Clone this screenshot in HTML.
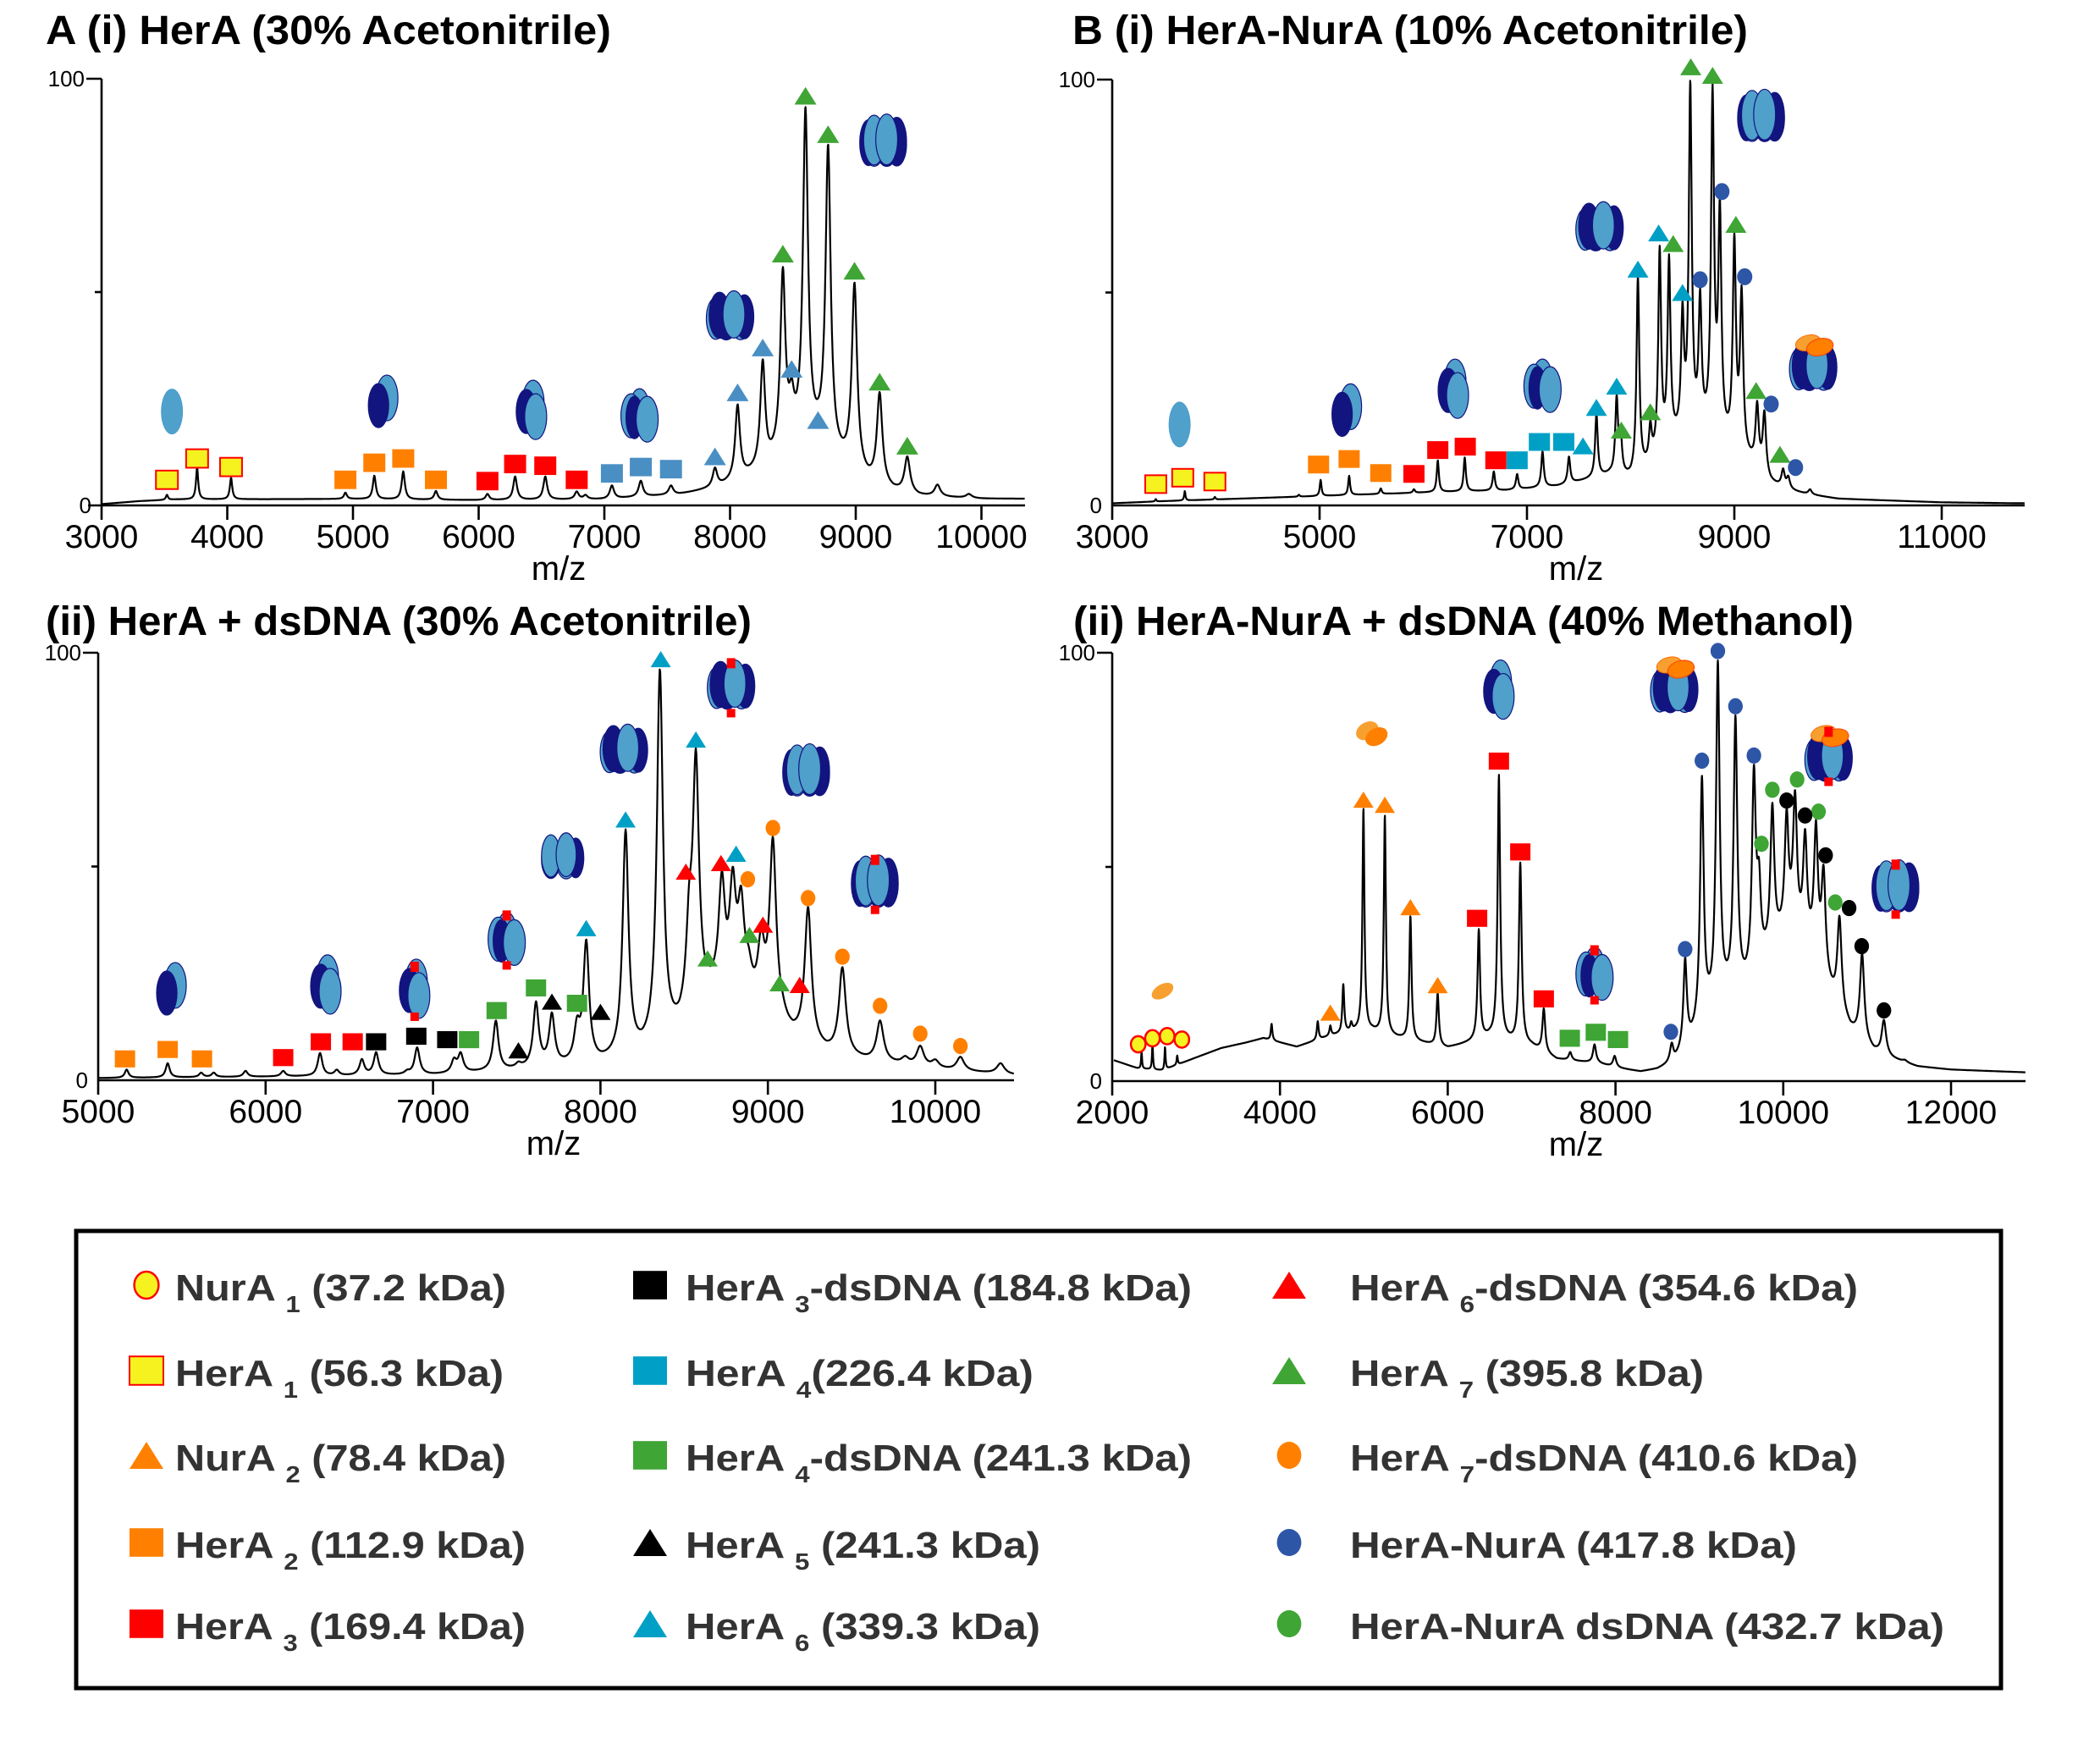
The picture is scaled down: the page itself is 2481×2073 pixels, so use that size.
<!DOCTYPE html>
<html><head><meta charset="utf-8"><title>HerA / HerA-NurA native MS spectra</title>
<style>
html,body{margin:0;padding:0;background:#fff;}
svg{display:block;}
text{font-family:"Liberation Sans",sans-serif;}
</style></head>
<body>
<svg id="fig" xmlns="http://www.w3.org/2000/svg" width="2481" height="2073" viewBox="0 0 2481 2073">
<rect x="0" y="0" width="2481" height="2073" fill="#fff"/>
<g id="titles" font-weight="bold" fill="#000">
<text x="54" y="52" font-size="48" textLength="668" lengthAdjust="spacingAndGlyphs">A  (i) HerA (30% Acetonitrile)</text>
<text x="1267" y="52" font-size="48" textLength="798" lengthAdjust="spacingAndGlyphs">B  (i) HerA-NurA (10% Acetonitrile)</text>
<text x="54" y="750" font-size="48" textLength="834" lengthAdjust="spacingAndGlyphs">(ii) HerA + dsDNA (30% Acetonitrile)</text>
<text x="1268" y="750" font-size="48" textLength="922" lengthAdjust="spacingAndGlyphs">(ii) HerA-NurA + dsDNA (40% Methanol)</text>
</g>
<g id="panels"></g>
<g id="legend">
<rect x="90" y="1454" width="2274" height="540" fill="none" stroke="#000" stroke-width="5"/>
</g>
</svg>
<script>
// ---------- Panel A(i): HerA (30% Acetonitrile) ----------
const aiPeakMz  = [3520,3760,4030,4940,5170,5400,5660,6070,6290,6530,6780,6850,7060,7290,7450,7530,7620,7880,8060,8260,8420,8490,8600,8720,8780,8990,9190,9410,9650,9900];
const aiPeakInt = [2.5,8.9,6.5,3,7,8,3.4,2.7,6.8,6.8,3.3,2.5,4.7,5.8,2.5,4.7,3,8.9,23.7,34.3,55.9,30,93.5,18.6,84.7,52.3,26.6,11.5,4.9,2.7];
const aiBaseMz  = [3000,3300,3600,5000,6000,7000,7600,7900,8100,8300,8450,8600,8700,8850,8950,9100,9300,9500,10000,10300];
const aiBaseInt = [0.3,1.0,1.4,1.5,1.2,1.4,2.5,4.0,6.0,8.5,13,14.5,14,10,8,5,3,2,1.5,1.5];
const aiMarkType = ['ysq','ysq','ysq','osq','osq','osq','osq','rsq','rsq','rsq','rsq','bsq','bsq','bsq','btri','btri','btri','btri','btri','gtri','gtri','gtri','gtri','gtri','gtri'];
const aiMarkMz   = [3520,3760,4030,4940,5170,5400,5660,6070,6290,6530,6780,7060,7290,7530,7880,8060,8260,8490,8700,8420,8600,8780,8990,9190,9410];
const aiMarkInt  = [6,11,9,6,10,11,6,5.7,9.7,9.3,6,7.5,9,8.5,11.5,26.5,37,32,20,59,96,87,55,29,14];
const aiIconType = ['mono','di','tri','tetra','hexa','hepta'];
const aiIconMz   = [3560,5230,6420,7280,8000,9220];
const aiIconInt  = [22,24,22,21,44,85];
const aiTicks    = [3000,4000,5000,6000,7000,8000,9000,10000];

// ---------- Panel B(i): HerA-NurA (10% Acetonitrile) ----------
const biPeakMz  = [3420,3700,3990,4800,5010,5285,5590,5910,6140,6400,6680,6905,7150,7405,7670,7865,7905,8070,8190,8280,8370,8500,8575,8670,8790,8860,9000,9070,9220,9290,9470,9520,9730];
const biPeakInt = [1.5,3.4,2.0,2.5,6,7,4,3.8,10.6,11.3,8,7.4,12.7,11.5,21.5,26,17.5,54,20,61,59,48,100,51,99,72.5,64,51.7,24.6,22.4,8.7,7,3.8];
const biBaseMz  = [3000,3500,4500,5000,6000,6800,7300,7600,7800,8000,8200,8400,8600,8800,9000,9200,9350,9500,9700,10000,11000,11700];
const biBaseInt = [0.5,1.0,1.8,2.2,3.0,3.5,4.5,6,7,6,9,14,16,16,12,9,5,3.5,2.5,1.5,0.7,0.5];
const biMarkType = ['ysq','ysq','ysq','osq','osq','osq','rsq','rsq','rsq','rsq','csq','csq','csq','ctri','ctri','ctri','ctri','ctri','ctri','gtri','gtri','gtri','gtri','gtri','gtri','gtri','gtri','bcirc','bcirc','bcirc','bcirc','bcirc'];
const biMarkMz   = [3420,3680,3990,4990,5285,5590,5910,6140,6405,6700,6905,7120,7355,7540,7670,7865,8070,8270,8500,7910,8190,8410,8580,8790,9015,9210,9440,8670,8880,9100,9355,9590];
const biMarkInt  = [5,6.5,5.6,9.6,10.9,7.6,7.4,13,13.8,10.6,10.6,14.9,14.9,14,23,28,55.5,64,50,17.7,22,61.5,103,101,66,27,12,53,73.7,53.7,23.8,8.9];
const biIconType = ['mono','di','tri','tetra','hexa','hepta','hn'];
const biIconMz   = [3650,5250,6290,7150,7700,9260,9760];
const biIconInt  = [19,22,27,28,65,91,33];
const biTicks    = [3000,5000,7000,9000,11000];

// ---------- Panel A(ii): HerA + dsDNA (30% Acetonitrile) ----------
const aiiPeakMz  = [5170,5415,5615,5690,5880,6105,6325,6425,6575,6660,6845,6905,7125,7165,7375,7510,7615,7710,7860,7915,8150,8355,8530,8570,8640,8685,8725,8790,8840,8885,8960,9030,9085,9200,9240,9445,9670,9820,9910,10000,10150,10390];
const aiiPeakInt = [2.5,4,1.8,1.8,2.2,2.2,6.4,2.5,5,6.6,2.5,7.7,5.3,6.6,14,4.4,18.5,15.9,15,33,58.7,96.3,46.4,77.7,26.5,29.6,49,50,45.5,31.4,35.8,57,21.2,18.6,40.6,26.5,14,5.7,8.1,4.9,5.5,4];
const aiiBaseMz  = [5000,6000,7000,7400,7800,8000,8250,8470,8650,8800,9000,9150,9350,9600,10000,10460];
const aiiBaseInt = [0.5,0.8,1.2,2,3,3.5,5.5,10,18,18,15,9.5,6,4.2,2.5,1.2];
const aiiMarkType = ['osq','osq','osq','rsq','rsq','rsq','ksq','ksq','ksq','gsq','gsq','gsq','gsq','ktri','ktri','ktri','ctri','ctri','ctri','ctri','ctri','rtri','rtri','rtri','rtri','gtri','gtri','gtri','ocirc','ocirc','ocirc','ocirc','ocirc','ocirc','ocirc'];
const aiiMarkMz   = [5160,5415,5620,6105,6330,6520,6660,6900,7085,7215,7380,7615,7860,7510,7710,8000,7915,8150,8360,8570,8810,8510,8720,8970,9190,8640,8890,9070,8880,9030,9240,9445,9670,9910,10150];
const aiiMarkInt  = [5,7.2,5,5.3,9,9,9,10.3,9.5,9.5,16.3,21.6,18,7,18.4,16,35.6,61,98.5,79.7,53,48.8,50.8,36.4,22.3,28.5,34,22.7,47,59,42.6,28.9,17.4,10.9,8];
const aiiIconType = ['di','tri','trid','tetrad','penta','hexa','hexad','hepta','heptad'];
const aiiIconMz   = [5430,6360,6890,7440,7770,8140,8780,9230,9640];
const aiiIconInt  = [21,22,21,33,52,77,92,72,46];
const aiiTicks    = [5000,6000,7000,8000,9000,10000];

// ---------- Panel B(ii): HerA-NurA + dsDNA (40% Methanol) ----------
const biiPeakMz  = [2350,2480,2630,2775,3900,4450,4600,4755,4850,4995,5105,5250,5555,5880,6370,6610,6865,7145,7460,7750,7990,8670,8830,9030,9220,9430,9650,9710,9870,10040,10140,10260,10390,10480,10670,10940,11200,11450];
const biiPeakInt = [7,9,8,6,13.4,14,13,22.7,14,63.8,13,62.2,38.6,20.5,35.5,71.5,51,17,6.8,8.6,5.9,9,28.9,71.3,98.2,85.4,73.9,52,65,63.8,68,58.9,61,50.5,38.6,30,14.3,5];
const biiBaseMz  = [2000,2300,2600,3000,3300,3600,3800,4000,4200,4600,5000,5400,6000,6500,7000,7300,7800,8000,8300,8500,8700,8900,9100,9310,9550,9760,9950,10100,10330,10560,10800,11080,11300,11600,12000,12900];
const biiBaseInt = [5,3,2.5,5.5,7.7,9,10,9,8,10.5,12,10,7.7,10,8,5,4,3,2,2.5,4,8.6,14.8,18.7,21,26.7,32,34,29,20,11.5,6.5,5,3.3,2.6,2];
const biiMarkType = ['ycirc','ycirc','ycirc','ycirc','otri','otri','otri','otri','otri','rsq','rsq','rsq','rsq','gsq','gsq','gsq','bcirc','bcirc','bcirc','bcirc','bcirc','bcirc','gcirc','gcirc','gcirc','gcirc','gcirc','kcirc','kcirc','kcirc','kcirc','kcirc','kcirc'];
const biiMarkMz   = [2310,2480,2655,2830,4600,4995,5250,5555,5880,6350,6610,6865,7145,7455,7765,8030,8660,8830,9030,9220,9430,9650,9740,9870,10165,10420,10620,10040,10260,10505,10785,10935,11200];
const biiMarkInt  = [8.6,10,10.5,9.7,16,65.7,64.5,40.6,22.4,38,74.7,53.5,19.2,10,11.4,9.7,11.5,30.8,74.8,100.4,87.5,76,55.4,68,70.4,62.9,41.7,65.5,62,52.7,40.4,31.5,16.5];
const biiIconType = ['nura1','nura2','tri','tetrad','hn','hnd','heptad'];
const biiIconMz   = [2600,5100,6610,7750,8700,10540,11340];
const biiIconInt  = [21,81,91,25,92,76,45];
const biiTicks    = [2000,4000,6000,8000,10000,12000];

// ---------- Legend ----------
const legSym  = ['ycirc','ysq','otri','osq','rsq','ksq','csq','gsq','ktri','ctri','rtri','gtri','ocirc','bcirc','gcirc'];
const legMain = ['NurA','HerA','NurA','HerA','HerA','HerA','HerA','HerA','HerA','HerA','HerA','HerA','HerA','HerA-NurA (417.8 kDa)','HerA-NurA dsDNA (432.7 kDa)'];
const legSub  = ['1','1','2','2','3','3','4','4','5','6','6','7','7','',''];
const legRest = [' (37.2 kDa)',' (56.3 kDa)',' (78.4 kDa)',' (112.9 kDa)',' (169.4 kDa)','-dsDNA (184.8 kDa)','(226.4 kDa)','-dsDNA (241.3 kDa)',' (241.3 kDa)',' (339.3 kDa)','-dsDNA (354.6 kDa)',' (395.8 kDa)','-dsDNA (410.6 kDa)','',''];

const NS='http://www.w3.org/2000/svg';
const panelsG=document.getElementById('panels');
const DARK='#12157f', LIGHT='#4fa0cb';
const COL={y:'#f5f21f',o:'#ff8000',r:'#ff0000',k:'#000000',c:'#00a0c6',b:'#4a8fc4',g:'#3fa535',bl:'#2e56a6'};

function el(tag,attrs,parent){const e=document.createElementNS(NS,tag);for(const k in attrs)e.setAttribute(k,attrs[k]);if(parent)parent.appendChild(e);return e;}
function interp(xs,ys,x){if(x<=xs[0])return ys[0];for(let i=1;i<xs.length;i++){if(x<=xs[i]){const t=(x-xs[i-1])/(xs[i]-xs[i-1]);return ys[i-1]+t*(ys[i]-ys[i-1]);}}return ys[ys.length-1];}

function marker(g,type,x,y,s){
  const k=type.replace(/(sq|tri|circ)$/,''); const shape=type.slice(k.length);
  const fill={y:COL.y,o:COL.o,r:COL.r,k:COL.k,c:COL.c,b:COL.b,g:COL.g}[k]||COL.bl;
  let e;
  if(shape==='sq'){e=el('rect',{x:x-s/2,y:y-s*0.42,width:s,height:s*0.84,fill:fill},g);
    if(k==='y'){e.setAttribute('stroke','#ff0000');e.setAttribute('stroke-width',2);}}
  else if(shape==='tri'){e=el('polygon',{points:`${x-s/2},${y+s*0.4} ${x+s/2},${y+s*0.4} ${x},${y-s*0.4}`,fill:fill},g);}
  else {const f=(k==='b')?COL.bl:fill;e=el('ellipse',{cx:x,cy:y,rx:s*0.36,ry:s*0.4,fill:f},g);
    if(k==='y'){e.setAttribute('stroke','#ff0000');e.setAttribute('stroke-width',2.5);}}
  return e;
}

function ell(g,cx,cy,rx,ry,fill){return el('ellipse',{cx:cx,cy:cy,rx:rx,ry:ry,fill:fill,stroke:DARK,'stroke-width':1.2},g);}
function ring(g,n,cx,cy,rx,ry){
  const R=rx*1.35; const items=[];
  for(let i=0;i<n;i++){const a=2*Math.PI*i/n+Math.PI/n*0.5;items.push({x:R*Math.sin(a),d:Math.cos(a),c:i%2?DARK:LIGHT});}
  items.sort((a,b)=>a.d-b.d);
  items.forEach(it=>{ell(g,cx+it.x,cy-it.d*4,rx*(0.8+0.2*Math.abs(it.d)),ry*(0.9+0.1*it.d),it.c);});
}
function icon(g,type,cx,cy){
  const dna=/d$/.test(type); const base=dna?type.slice(0,-1):type;
  if(base==='mono'){ell(g,cx,cy,13,27,LIGHT).setAttribute('stroke','none');}
  else if(base==='di'){ell(g,cx+6,cy-6,13,27,LIGHT);ell(g,cx-4,cy+3,12,26,DARK);}
  else if(base==='tri'){ell(g,cx+2,cy-10,13,27,LIGHT);ell(g,cx-6,cy,12,26,DARK);ell(g,cx+5,cy+6,13,27,LIGHT);}
  else if(base==='tetra'){ell(g,cx,cy-6,12,26,LIGHT);ell(g,cx-10,cy,12,26,LIGHT);ell(g,cx-6,cy+2,10,25,DARK);ell(g,cx+9,cy+4,13,27,LIGHT);}
  else if(base==='penta'){ring(g,5,cx,cy,12,26);}
  else if(base==='hexa'){ring(g,6,cx,cy,13,28);}
  else if(base==='hepta'){ring(g,7,cx,cy,13,30);}
  else if(base==='nura1'){el('ellipse',{cx:cx,cy:cy,rx:14,ry:8,fill:'#f7a030',transform:`rotate(-30 ${cx} ${cy})`},g);}
  else if(base==='nura2'){el('ellipse',{cx:cx-6,cy:cy-4,rx:14,ry:10,fill:'#f7a030',transform:`rotate(-30 ${cx-6} ${cy-4})`},g);
    el('ellipse',{cx:cx+5,cy:cy+3,rx:14,ry:10,fill:'#ff7f00',transform:`rotate(-30 ${cx+5} ${cy+3})`},g);}
  else if(base==='hn'){ring(g,6,cx,cy+4,13,28);
    el('ellipse',{cx:cx-6,cy:cy-26,rx:15,ry:9,fill:'#f7a030',stroke:'#ff6a00','stroke-width':1,transform:`rotate(-15 ${cx-6} ${cy-26})`},g);
    el('ellipse',{cx:cx+8,cy:cy-21,rx:16,ry:10,fill:'#ff7f00',stroke:'#ff4000','stroke-width':1,transform:`rotate(-15 ${cx+8} ${cy-21})`},g);}
  if(dna){el('rect',{x:cx-5,y:cy-34,width:10,height:12,fill:'#ff0000'},g);el('rect',{x:cx-5,y:cy+26,width:10,height:10,fill:'#ff0000'},g);}
}

function drawPanel(cfg){
  const g=el('g',{},panelsG);
  
  
  const X=m=>cfg.x0+(m-cfg.m0)*cfg.ppk/1000;
  const Y=v=>cfg.y0-v*(cfg.y0-cfg.y100)/100;
  const mEnd=cfg.m0+(cfg.xEnd-cfg.x0)*1000/cfg.ppk;
  const n=cfg.pMz.length;
  const shape=(m,i)=>{const c=cfg.pMz[i];const u=(m-c)/(cfg.gk*c);return 1/(1+u*u);};
  const amps=cfg.pMz.map((c,i)=>Math.max(0,cfg.pInt[i]-interp(cfg.bMz,cfg.bInt,c)));
  for(let it=0;it<30;it++){
    for(let i=0;i<n;i++){
      const c=cfg.pMz[i]; let v=interp(cfg.bMz,cfg.bInt,c);
      for(let j=0;j<n;j++) v+=amps[j]*shape(c,j);
      amps[i]=Math.max(0,amps[i]+0.6*(cfg.pInt[i]-v));
    }
  }
  let d=''; const step=3;
  for(let m=cfg.traceStart;m<=mEnd;m+=step){
    let v=interp(cfg.bMz,cfg.bInt,m);
    for(let i=0;i<n;i++) v+=amps[i]*shape(m,i);
    d+=(d?'L':'M')+X(m).toFixed(1)+','+Y(v).toFixed(1);
  }
  const tr=el('path',{d:d,fill:'none',stroke:'#000','stroke-width':2.2,'stroke-linejoin':'round'},g);
  
  
  const ax=el('g',{stroke:'#000','stroke-width':2.6},g);
  
  
  el('line',{x1:cfg.x0,y1:cfg.y100,x2:cfg.x0,y2:cfg.y0},ax);
  el('line',{x1:cfg.x0-cfg.xPre,y1:cfg.y0,x2:cfg.xEnd,y2:cfg.y0},ax);
  el('line',{x1:cfg.x0-18,y1:cfg.y100,x2:cfg.x0,y2:cfg.y100},ax);
  el('line',{x1:cfg.x0-8,y1:Y(50),x2:cfg.x0,y2:Y(50)},ax);
  const yl1=el('text',{x:cfg.x0-20,y:cfg.y100+9,'font-size':26,'text-anchor':'end'},g); yl1.textContent='100';
  
  
  const yl0=el('text',{x:cfg.x0-12,y:cfg.y0+9,'font-size':26,'text-anchor':'end'},g); yl0.textContent='0';
  
  
  cfg.ticks.forEach(t=>{
    el('line',{x1:X(t),y1:cfg.y0,x2:X(t),y2:cfg.y0+17},ax);
    const tl=el('text',{x:X(t),y:cfg.y0+50,'font-size':39,'text-anchor':'middle'},g); tl.textContent=String(t);
    
    
  });
  const xt=el('text',{x:cfg.mzX,y:cfg.y0+88,'font-size':40,'text-anchor':'middle'},g); xt.textContent='m/z';
  
  
  for(let i=0;i<cfg.mType.length;i++){
    const mk=marker(g,cfg.mType[i],X(cfg.mMz[i]),Y(cfg.mInt[i]),cfg.ms);
    
    
  }
  for(let i=0;i<cfg.iType.length;i++){
    const ig=el('g',{},g);
    
    
    icon(ig,cfg.iType[i],X(cfg.iMz[i]),Y(cfg.iInt[i]));
  }
}

drawPanel({name:'panel-a-i',x0:120,m0:3000,ppk:148.5,xEnd:1211,xPre:16,y0:597,y100:93,gk:0.0028,traceStart:3000,
  pMz:aiPeakMz,pInt:aiPeakInt,bMz:aiBaseMz,bInt:aiBaseInt,mType:aiMarkType,mMz:aiMarkMz,mInt:aiMarkInt,ms:26,
  iType:aiIconType,iMz:aiIconMz,iInt:aiIconInt,ticks:aiTicks,mzX:660});
drawPanel({name:'panel-b-i',x0:1314,m0:3000,ppk:122.5,xEnd:2392,xPre:0,y0:597,y100:94,gk:0.002,traceStart:3000,
  pMz:biPeakMz,pInt:biPeakInt,bMz:biBaseMz,bInt:biBaseInt,mType:biMarkType,mMz:biMarkMz,mInt:biMarkInt,ms:25,
  iType:biIconType,iMz:biIconMz,iInt:biIconInt,ticks:biTicks,mzX:1862});
drawPanel({name:'panel-a-ii',x0:116,m0:5000,ppk:197.8,xEnd:1198,xPre:0,y0:1276,y100:771,gk:0.0026,traceStart:5000,
  pMz:aiiPeakMz,pInt:aiiPeakInt,bMz:aiiBaseMz,bInt:aiiBaseInt,mType:aiiMarkType,mMz:aiiMarkMz,mInt:aiiMarkInt,ms:24,
  iType:aiiIconType,iMz:aiiIconMz,iInt:aiiIconInt,ticks:aiiTicks,mzX:654});
drawPanel({name:'panel-b-ii',x0:1314,m0:2000,ppk:99.1,xEnd:2393,xPre:0,y0:1277,y100:771,gk:0.0028,traceStart:2020,
  pMz:biiPeakMz,pInt:biiPeakInt,bMz:biiBaseMz,bInt:biiBaseInt,mType:biiMarkType,mMz:biiMarkMz,mInt:biiMarkInt,ms:24,
  iType:biiIconType,iMz:biiIconMz,iInt:biiIconInt,ticks:biiTicks,mzX:1862});

const legG=document.getElementById('legend');
const rowY=[1536,1637,1737,1840,1936];
const colSym=[173,768,1523], colTxt=[207,810,1595];
const legLen=[391,388,391,414,414,598,411,598,419,419,600,418,600,528,702];
for(let i=0;i<legSym.length;i++){
  const col=i<5?0:(i<10?1:2); const row=i%5;
  const eg=el('g',{},legG);
  
  
  const sy=rowY[row]-18;
  const mk=marker(eg,legSym[i],colSym[col],sy,40);
  
  
  const t=el('text',{x:colTxt[col],y:rowY[row],'font-size':44,'font-weight':'bold',fill:'#333',textLength:legLen[i],lengthAdjust:'spacingAndGlyphs'},eg);
  
  
  const t1=el('tspan',{},t); t1.textContent=legMain[i]+(legSub[i]?' ':'');
  if(legSub[i]){const t2=el('tspan',{'font-size':28,dy:14},t); t2.textContent=legSub[i];
    const t3=el('tspan',{dy:-14},t); t3.textContent=legRest[i];}
}
</script>
</body></html>
